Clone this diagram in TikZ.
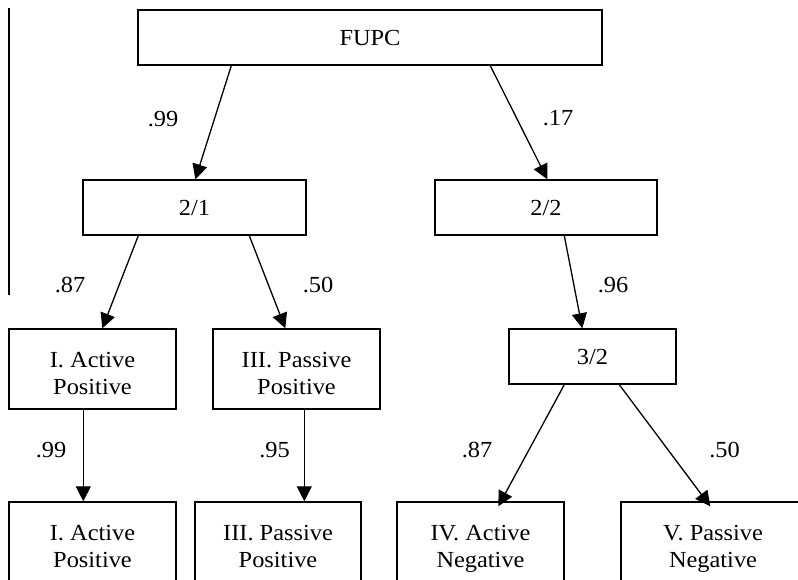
\documentclass[tikz,border=0pt]{standalone}
\usepackage{fontspec}
\setmainfont{Liberation Serif}[FakeStretch=1.06]
\usetikzlibrary{arrows.meta}
\newcommand\twol[2]{\raisebox{0pt}[24pt][0pt]{#1}\\\raisebox{0pt}[0pt][0pt]{#2}}
\tikzset{
  box/.style={draw, line width=1.4pt, inner sep=0pt, align=center,
    font=\fontsize{23pt}{27.7pt}\selectfont},
  onebox/.style={box, minimum height=55pt, text height=15.5pt, text depth=0pt},
  twobox/.style={box, minimum height=80pt, minimum width=167pt},
  lab/.style={inner sep=0pt, text height=15.5pt, text depth=0pt,
    font=\fontsize{23pt}{27.7pt}\selectfont},
  arr/.style={line width=1.3pt, -{Triangle[length=15pt,width=15pt]}}
}
\begin{document}
\begin{tikzpicture}[x=1pt,y=-1pt]
\useasboundingbox (0,0) rectangle (798,580);
\clip (0,0) rectangle (798,580);
\fill[white] (0,0) rectangle (798,580);
\coordinate (lt) at (9,8);
\coordinate (lb) at (9,295);
\draw[line width=1.4pt] (lt) -- (lb);

\node[onebox, minimum width=464pt] (fupc) at (370,37.5) {FUPC};
\node[onebox, minimum width=223pt] (b21) at (194.5,207.5) {2/1};
\node[onebox, minimum width=222pt] (b22) at (546,207.5) {2/2};
\node[onebox, minimum width=167pt] (n32) at (592.5,356.5) {3/2};

\node[twobox] (a1) at (92.5,369) {\twol{I. Active}{Positive}};
\node[twobox] (p3) at (296.5,369) {\twol{III. Passive}{Positive}};

\node[twobox] (b1) at (92.5,542) {\twol{I. Active}{Positive}};
\node[twobox, minimum width=166pt] (b3) at (278,542) {\twol{III. Passive}{Positive}};
\node[twobox] (b4) at (480.5,542) {\twol{IV. Active}{Negative}};
\node[twobox, minimum width=184pt] (b5) at (713,542) {\twol{V. Passive}{Negative}};

\draw[arr] ([xshift=94pt]fupc.south west) -- ([xshift=113pt]b21.north west);
\draw[arr] ([xshift=353pt]fupc.south west) -- ([xshift=113pt]b22.north west);
\draw[arr] ([xshift=56pt]b21.south west) -- ([xshift=94pt]a1.north west);
\draw[arr] ([xshift=167pt]b21.south west) -- ([xshift=73pt]p3.north west);
\draw[arr] ([xshift=130pt]b22.south west) -- ([xshift=74pt]n32.north west);
\draw[arr] ([xshift=75pt]a1.south west) -- ([xshift=75pt]b1.north west);
\draw[arr] ([xshift=92pt]p3.south west) -- ([xshift=110pt]b3.north west);
\draw[arr] ([xshift=56pt]n32.south west) -- ([xshift=102pt,yshift=-5pt]b4.north west);
\draw[arr] ([xshift=111pt]n32.south west) -- ([xshift=90pt,yshift=-5pt]b5.north west);

\node[lab] (l1) at (163,119) {.99};
\node[lab] (l2) at (558,118) {.17};
\node[lab] (l3) at (70,285) {.87};
\node[lab] (l4) at (318,285) {.50};
\node[lab] (l5) at (613,285) {.96};
\node[lab] (l6) at (51,450) {.99};
\node[lab] (l7) at (274.5,450) {.95};
\node[lab] (l8) at (477,450) {.87};
\node[lab] (l9) at (724.5,450) {.50};
\end{tikzpicture}
\end{document}
